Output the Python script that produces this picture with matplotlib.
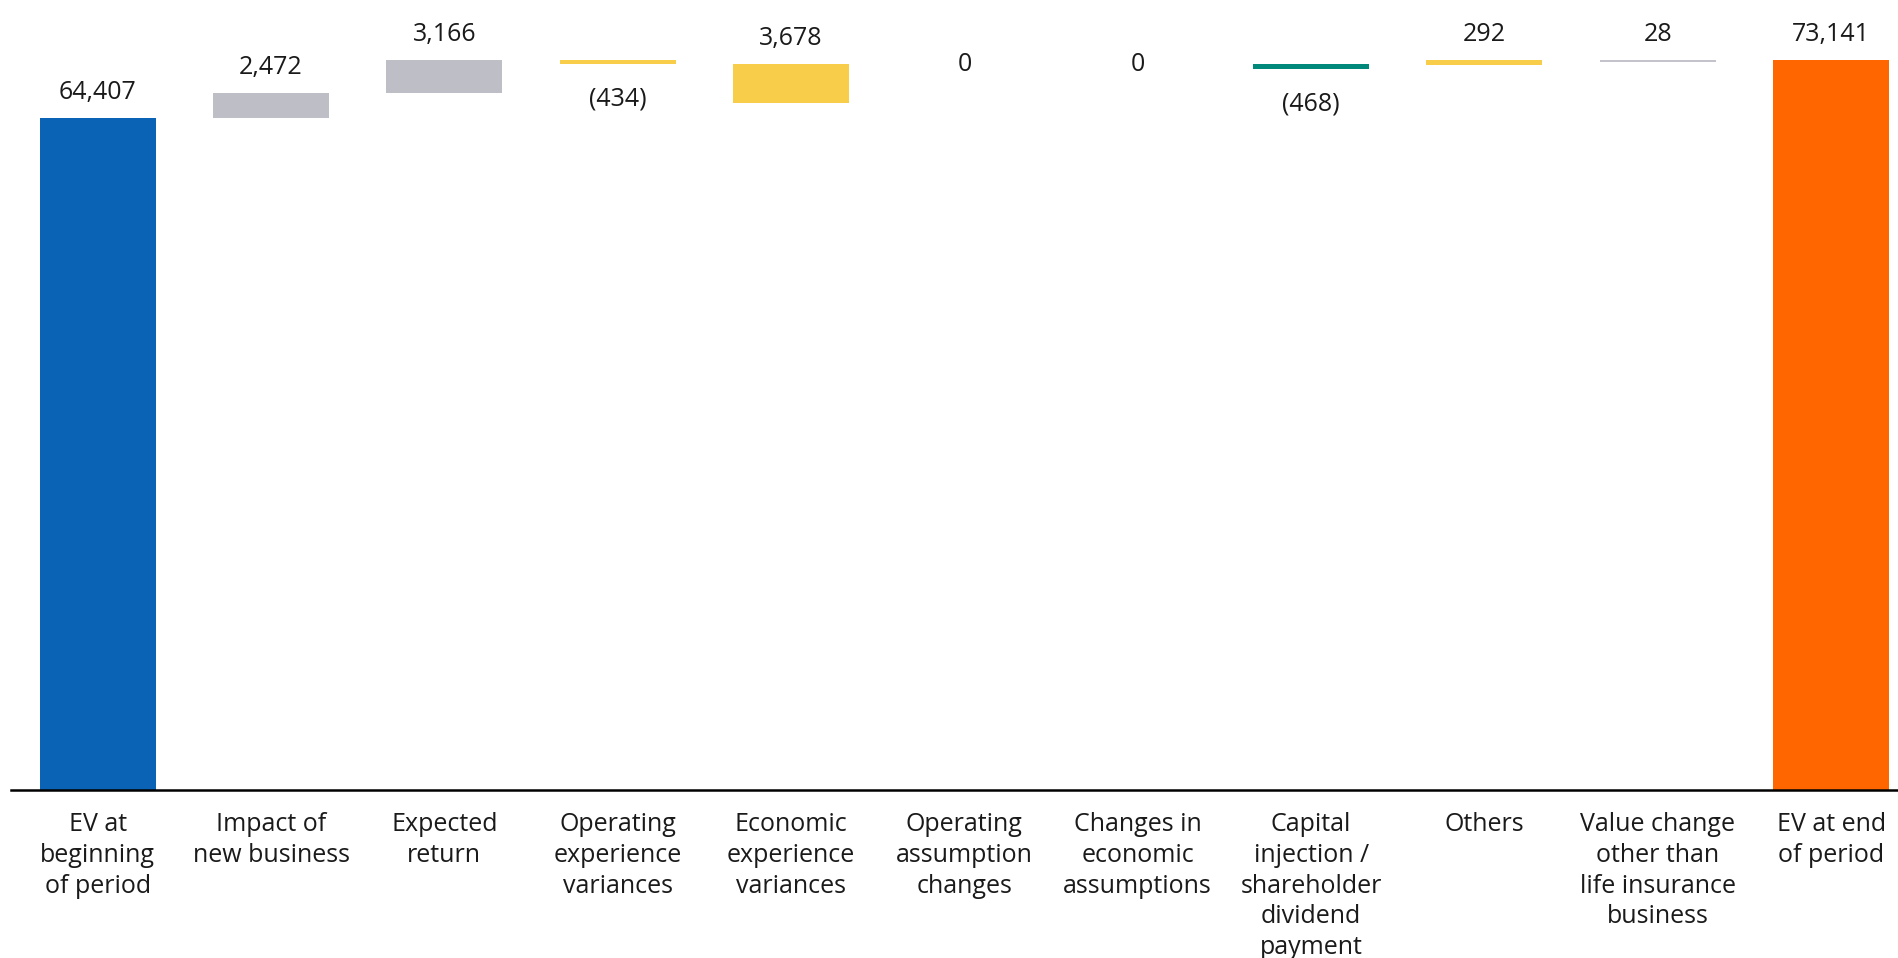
import matplotlib
matplotlib.use('Agg')
import matplotlib.pyplot as plt

# ── Data ──────────────────────────────────────────────────────────────────────
categories = [
    "EV at\nbeginning\nof period",
    "Impact of\nnew business",
    "Expected\nreturn",
    "Operating\nexperience\nvariances",
    "Economic\nexperience\nvariances",
    "Operating\nassumption\nchanges",
    "Changes in\neconomic\nassumptions",
    "Capital\ninjection /\nshareholder\ndividend\npayment",
    "Others",
    "Value change\nother than\nlife insurance\nbusiness",
    "EV at end\nof period",
]
values = [64407, 2472, 3166, -434, 3678, 0, 0, -468, 292, 28, 73141]
value_text = ["64,407", "2,472", "3,166", "(434)", "3,678", "0", "0",
              "(468)", "292", "28", "73,141"]

# bar extents as drawn in the source picture (it is not a strict running sum)
bar_low = [0, 64407, 66879, 69611, 65933, 69611, 69611, 69143, 69580, 69870, 0]
bar_high = [64407, 66879, 70045, 70045, 69611, 69611, 69611, 69611, 69970, 69970, 69970]

colors = ["#0A63B4", "#BEBEC6", "#BEBEC6", "#F7CD4A", "#F7CD4A", "#F7CD4A",
          "#F7CD4A", "#00897B", "#F7CD4A", "#C4C3CC", "#FF6600"]

# ── Figure ────────────────────────────────────────────────────────────────────
plt.rcParams['font.family'] = ['Open Sans', 'DejaVu Sans']
W, H = 1898, 958
fig = plt.figure(figsize=(W / 100, H / 100), dpi=100)
ax = fig.add_axes([11 / W, 168 / H, 1 - 11 / W, 790 / H])

x = list(range(len(categories)))
heights = [h - l for l, h in zip(bar_low, bar_high)]
ax.bar(x, heights, bottom=bar_low, width=0.67, color=colors, linewidth=0)

text_color = "#1a1a1a"
fs = 18
for i, v in enumerate(values):
    if v == 0:
        ax.annotate(value_text[i], (i, bar_high[i]), ha='center', va='center',
                    fontsize=fs, color=text_color)
    elif v < 0:
        ax.annotate(value_text[i], (i, bar_low[i]), xytext=(0, -22),
                    textcoords='offset pixels', ha='center', va='top',
                    fontsize=fs, color=text_color)
    else:
        ax.annotate(value_text[i], (i, bar_high[i]), xytext=(0, 19),
                    textcoords='offset pixels', ha='center', va='baseline',
                    fontsize=fs, color=text_color)

ax.set_xlim(-0.5, 10.386)
ax.set_ylim(0, 75772)
ax.set_xticks(x)
ax.set_xticklabels(categories, fontsize=fs, color=text_color, linespacing=1.3,
                   va='top')
ax.tick_params(axis='x', length=0, pad=16)
ax.set_yticks([])
for side in ['top', 'right', 'left']:
    ax.spines[side].set_visible(False)
ax.spines['bottom'].set_linewidth(1.8)
ax.spines['bottom'].set_color('black')

fig.savefig('out.png', dpi=100)
